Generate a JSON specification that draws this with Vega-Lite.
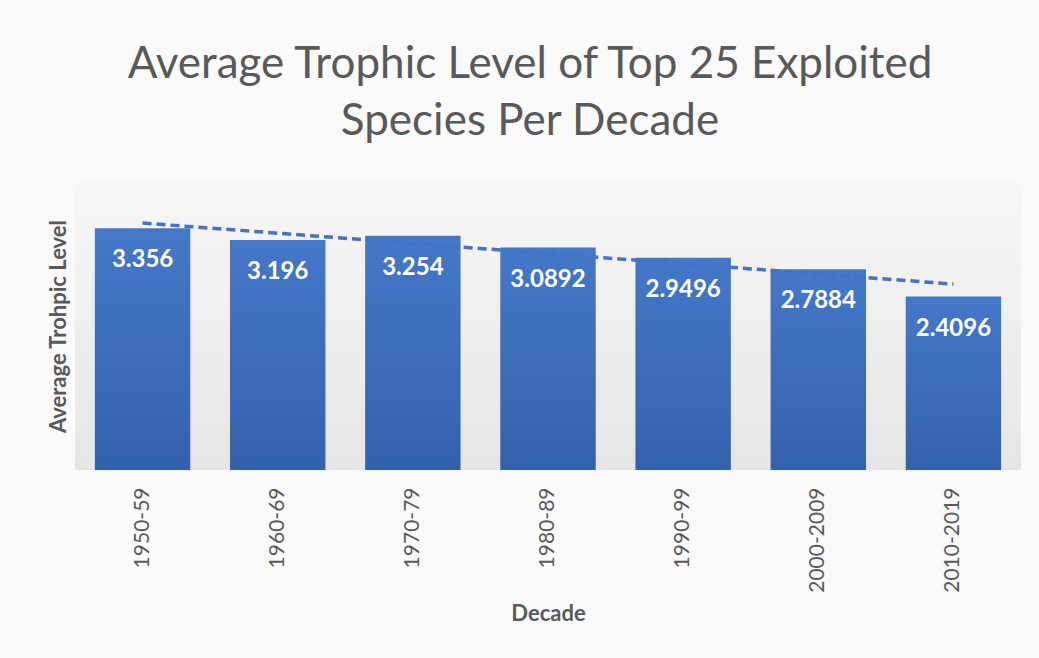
{
  "$schema": "https://vega.github.io/schema/vega-lite/v6.json",
  "autosize": {"type": "none"},
  "width": 946,
  "height": 288,
  "padding": {"left": 75, "top": 182, "right": 18, "bottom": 188},
  "background": "#fafafa",
  "view": {"stroke": null, "fill": {"gradient": "linear", "x1": 0, "y1": 0, "x2": 0, "y2": 1, "stops": [{"offset": 0, "color": "#f7f7f7"}, {"offset": 1, "color": "#e6e6e6"}]}},
  "title": {
    "text": ["Average Trophic Level of Top 25 Exploited", "Species Per Decade"],
    "font": "Lato",
    "fontSize": 44,
    "fontWeight": "normal",
    "color": "#595959",
    "lineHeight": 57,
    "anchor": "middle",
    "dx": -18,
    "offset": 38
  },
  "datasets": {
    "bars": [
      {"decade": "1950-59", "level": 3.356},
      {"decade": "1960-69", "level": 3.196},
      {"decade": "1970-79", "level": 3.254},
      {"decade": "1980-89", "level": 3.0892},
      {"decade": "1990-99", "level": 2.9496},
      {"decade": "2000-2009", "level": 2.7884},
      {"decade": "2010-2019", "level": 2.4096}
    ],
    "trend": [
      {"decade": "1950-59", "level": 3.4303},
      {"decade": "2010-2019", "level": 2.5819}
    ]
  },
  "layer": [
    {
      "data": {"name": "bars"},
      "mark": {"type": "bar", "color": {"gradient": "linear", "x1": 0, "y1": 0, "x2": 0, "y2": 1, "stops": [{"offset": 0, "color": "#4478c8"}, {"offset": 1, "color": "#3461ac"}]}},
      "encoding": {
        "x": {
          "field": "decade", "type": "nominal", "sort": null,
          "scale": {"paddingInner": 0.294, "paddingOuter": 0.147},
          "axis": {
            "title": "Decade",
            "titleFont": "Lato", "titleFontSize": 22, "titleFontWeight": "bold", "titleColor": "#595959",
            "titlePadding": 11,
            "labelAngle": -90, "labelFont": "Lato", "labelFontSize": 21, "labelColor": "#595959",
            "labelPadding": 17, "ticks": false, "tickSize": 0, "domain": false, "grid": false
          }
        },
        "y": {
          "field": "level", "type": "quantitative",
          "scale": {"domain": [0, 4], "nice": false},
          "axis": {
            "title": "Average Trohpic Level",
            "titleFont": "Lato", "titleFontSize": 22, "titleFontWeight": "bold", "titleColor": "#595959",
            "titlePadding": 5,
            "labels": false, "ticks": false, "tickSize": 0, "domain": false, "grid": false
          }
        }
      }
    },
    {
      "data": {"name": "bars"},
      "mark": {"type": "text", "baseline": "middle", "align": "center", "dy": 32, "font": "Lato", "fontSize": 24, "fontWeight": "bold", "color": "white"},
      "encoding": {
        "x": {"field": "decade", "type": "nominal", "sort": null},
        "y": {"field": "level", "type": "quantitative"},
        "text": {"field": "level", "type": "nominal"}
      }
    },
    {
      "data": {"name": "trend"},
      "mark": {"type": "line", "color": "#4472c4", "strokeWidth": 3.5, "strokeDash": [9, 5]},
      "encoding": {
        "x": {"field": "decade", "type": "nominal", "sort": null},
        "y": {"field": "level", "type": "quantitative"}
      }
    }
  ]
}
